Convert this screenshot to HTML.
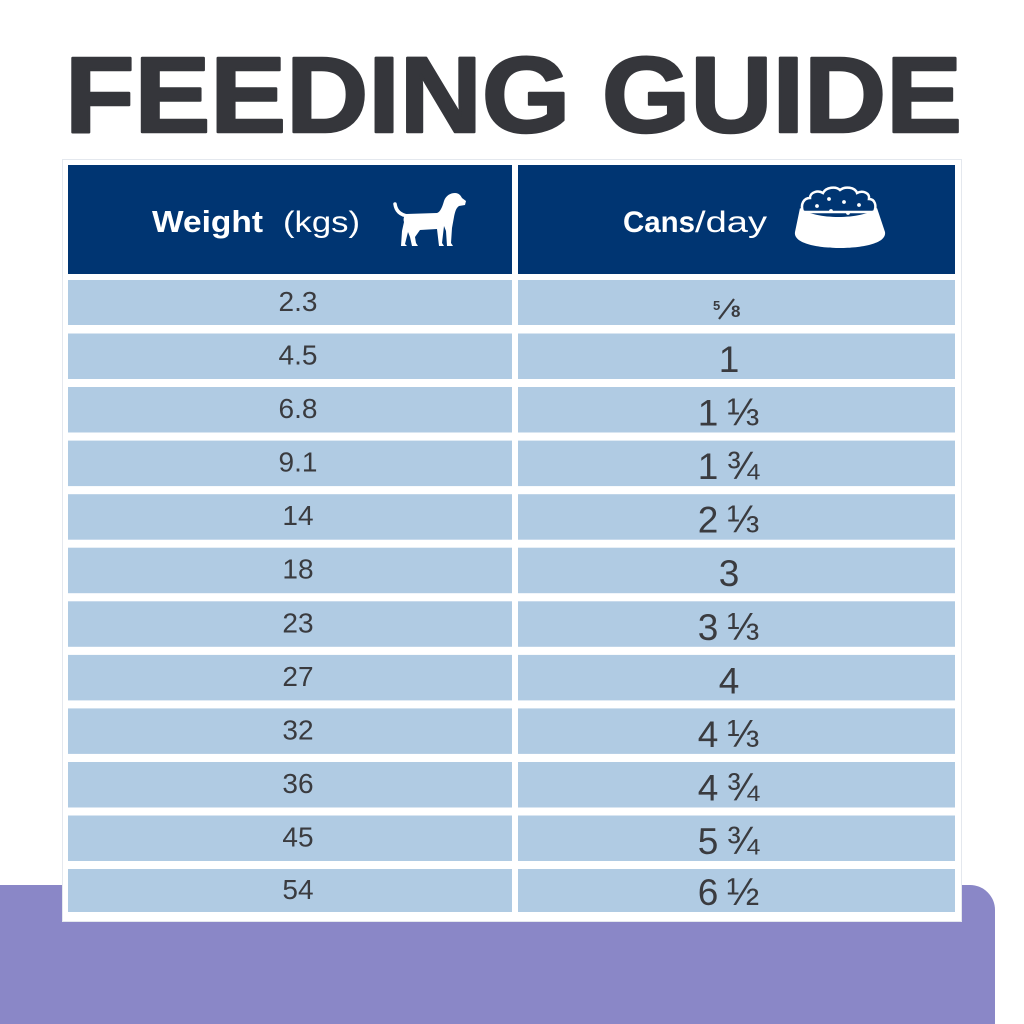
<!DOCTYPE html>
<html>
<head>
<meta charset="utf-8">
<style>
html,body{margin:0;padding:0;background:#fff;}
svg{display:block;}
text{font-family:"Liberation Sans","DejaVu Sans",sans-serif;}
</style>
</head>
<body>
<svg width="1024" height="1024" viewBox="0 0 1024 1024" xmlns="http://www.w3.org/2000/svg">
  <rect x="0" y="0" width="1024" height="1024" fill="#ffffff"/>
  <!-- purple base -->
  <path d="M0,885 H970 A25,25 0 0 1 995,910 V1024 H0 Z" fill="#8a87c7"/>
  <!-- title -->
  <text x="65" y="132" font-size="108" font-weight="bold" fill="#35363b" stroke="#35363b" stroke-width="2.5" stroke-linejoin="round" textLength="897" lengthAdjust="spacingAndGlyphs">FEEDING GUIDE</text>
  <!-- white panel -->
  <rect x="62.5" y="159.5" width="899" height="762" fill="#ffffff" stroke="#e4e8ee" stroke-width="1"/>
  <!-- header cells -->
  <rect x="68" y="165" width="444" height="109" fill="#003572"/>
  <rect x="518" y="165" width="437" height="109" fill="#003572"/>
  <text x="152" y="232" font-size="31" font-weight="bold" fill="#ffffff" textLength="111" lengthAdjust="spacingAndGlyphs">Weight</text>
  <text x="283" y="232" font-size="30" fill="#ffffff" textLength="77" lengthAdjust="spacingAndGlyphs">(kgs)</text>
  <text x="623" y="232" font-size="30" font-weight="bold" fill="#ffffff" textLength="72" lengthAdjust="spacingAndGlyphs">Cans</text>
  <text x="695" y="232" font-size="30" fill="#ffffff" textLength="72" lengthAdjust="spacingAndGlyphs">/day</text>
  <!-- dog icon -->
  <path d="M406,214 L437,213 C440,212 442,208 444,201 C446,195 451,193 455,193 C459,193 461,196 462,198 L466,201 L465,205 L459,206 C456,208 455,212 454,217 L452,228 L451,243 L453,246 L447,246 L446,231 L444,226 L442,243 L444,246 L439,246 L437,229 L420,230 L415,237 L416,243 L418,246 L412,246 L410,237 L408,232 L405,244 L407,246 L401,246 L402,231 L404,222 C403,219 404,216 406,214 Z" fill="#ffffff"/>
  <path d="M408,216 C400,215 396,211 395,204" fill="none" stroke="#ffffff" stroke-width="3.5" stroke-linecap="round"/>
  <!-- bowl icon -->
  <path d="M803,212 C800,204 804,198 810,198 C810,192 818,190 823,193 C826,187 836,186 840,190 C845,186 855,187 857,193 C863,190 870,193 869,199 C875,199 877,206 874,212 Z" fill="#003572" stroke="#ffffff" stroke-width="2.5"/>
  <path d="M800,208 C815,220 862,220 877,208 L885,232 C887,244 860,248 840,248 C820,248 793,244 795,232 Z" fill="#ffffff"/>
  <g fill="#ffffff">
    <circle cx="817" cy="206" r="1.9"/>
    <circle cx="829" cy="199" r="1.9"/>
    <circle cx="844" cy="202" r="1.9"/>
    <circle cx="859" cy="205" r="1.9"/>
    <circle cx="831" cy="211" r="1.9"/>
    <circle cx="848" cy="213" r="1.9"/>
  </g>
  <!-- rows -->
  <g fill="#b0cbe3">
    <rect x="68" y="280" width="444" height="45"/><rect x="518" y="280" width="437" height="45"/>
    <rect x="68" y="333.5" width="444" height="45.5"/><rect x="518" y="333.5" width="437" height="45.5"/>
    <rect x="68" y="387" width="444" height="45.5"/><rect x="518" y="387" width="437" height="45.5"/>
    <rect x="68" y="440.6" width="444" height="45.5"/><rect x="518" y="440.6" width="437" height="45.5"/>
    <rect x="68" y="494.2" width="444" height="45.5"/><rect x="518" y="494.2" width="437" height="45.5"/>
    <rect x="68" y="547.7" width="444" height="45.5"/><rect x="518" y="547.7" width="437" height="45.5"/>
    <rect x="68" y="601.3" width="444" height="45.5"/><rect x="518" y="601.3" width="437" height="45.5"/>
    <rect x="68" y="654.9" width="444" height="45.5"/><rect x="518" y="654.9" width="437" height="45.5"/>
    <rect x="68" y="708.4" width="444" height="45.5"/><rect x="518" y="708.4" width="437" height="45.5"/>
    <rect x="68" y="762" width="444" height="45.5"/><rect x="518" y="762" width="437" height="45.5"/>
    <rect x="68" y="815.5" width="444" height="45.5"/><rect x="518" y="815.5" width="437" height="45.5"/>
    <rect x="68" y="869" width="444" height="43"/><rect x="518" y="869" width="437" height="43"/>
  </g>
  <!-- weight column -->
  <g font-size="28" fill="#3a3b3f" text-anchor="middle">
    <text x="298" y="311">2.3</text>
    <text x="298" y="364.5">4.5</text>
    <text x="298" y="418">6.8</text>
    <text x="298" y="471.6">9.1</text>
    <text x="298" y="525.2">14</text>
    <text x="298" y="578.7">18</text>
    <text x="298" y="632.3">23</text>
    <text x="298" y="685.9">27</text>
    <text x="298" y="739.4">32</text>
    <text x="298" y="793">36</text>
    <text x="298" y="846.5">45</text>
    <text x="298" y="899">54</text>
  </g>
  <!-- cans column -->
  <g fill="#3a3b3f">
    <text x="713" y="310" font-size="13" font-weight="bold">5</text>
    <line x1="719" y1="319" x2="734" y2="299" stroke="#3a3b3f" stroke-width="2.2"/>
    <text x="731" y="317" font-size="17" font-weight="bold">8</text>
  </g>
  <g font-size="37" fill="#3a3b3f" text-anchor="middle">
    <text x="729" y="372">1</text>
    <text x="708" y="425.5">1</text><text x="743" y="425.5" font-size="39">⅓</text>
    <text x="708" y="479">1</text><text x="743" y="479" font-size="39">¾</text>
    <text x="708" y="532.7">2</text><text x="743" y="532.7" font-size="39">⅓</text>
    <text x="729" y="586.2">3</text>
    <text x="708" y="639.8">3</text><text x="743" y="639.8" font-size="39">⅓</text>
    <text x="729" y="693.4">4</text>
    <text x="708" y="746.9">4</text><text x="743" y="746.9" font-size="39">⅓</text>
    <text x="708" y="800.5">4</text><text x="743" y="800.5" font-size="39">¾</text>
    <text x="708" y="854">5</text><text x="743" y="854" font-size="39">¾</text>
    <text x="708" y="905">6</text><text x="743" y="905" font-size="39">½</text>
  </g>
</svg>
</body>
</html>
